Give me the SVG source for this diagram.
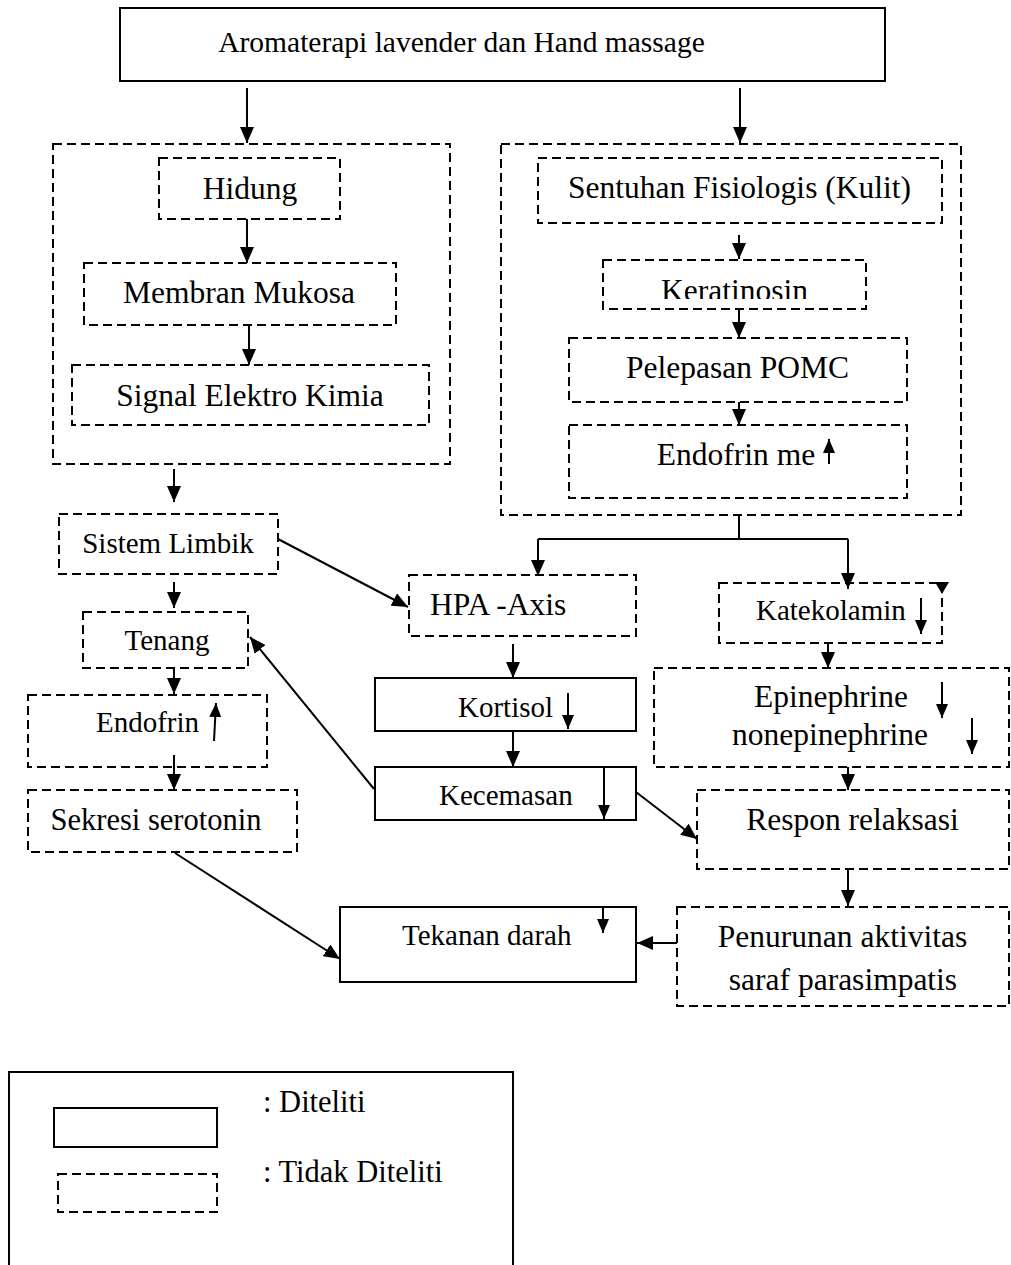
<svg xmlns="http://www.w3.org/2000/svg" width="1011" height="1265" viewBox="0 0 1011 1265">
<style>
.box{fill:none;stroke:#000;stroke-width:2}
.dbox{fill:none;stroke:#000;stroke-width:2;stroke-dasharray:9 5}
.ln{fill:none;stroke:#000;stroke-width:2}
.ar{fill:none;stroke:#000;stroke-width:2;marker-end:url(#ah)}
.sa{fill:none;stroke:#000;stroke-width:2;marker-end:url(#sh)}
text{font-family:"Liberation Serif","Times New Roman",serif;fill:#000}
.L{font-size:31.5px}
.S{font-size:29px}
.c{text-anchor:middle}
</style>
<defs>
<marker id="ah" viewBox="0 0 16 14" refX="16" refY="7" markerWidth="16" markerHeight="14" markerUnits="userSpaceOnUse" orient="auto"><path d="M0,0 L16,7 L0,14 Z" fill="#000"/></marker>
<marker id="sh" viewBox="0 0 14 12" refX="14" refY="6" markerWidth="14" markerHeight="12" markerUnits="userSpaceOnUse" orient="auto"><path d="M0,0 L14,6 L0,12 Z" fill="#000"/></marker>
<clipPath id="kclip"><rect x="600" y="255" width="270" height="44"/></clipPath>
</defs>
<rect width="1011" height="1265" fill="#fff"/>

<g id="title"><rect class="box" x="120" y="8" width="765" height="73"/><text class="S c" x="461.5" y="52" style="font-size:29.5px">Aromaterapi lavender dan Hand massage</text></g>

<g id="left-group"><rect class="dbox" x="53" y="144" width="397" height="320"/></g>
<g id="hidung"><rect class="dbox" x="159" y="158" width="181" height="61"/><text class="L c" x="250" y="199">Hidung</text></g>
<g id="membran"><rect class="dbox" x="84" y="263" width="312" height="62"/><text class="L c" x="239" y="303">Membran Mukosa</text></g>
<g id="signal"><rect class="dbox" x="72" y="365" width="357" height="60"/><text class="L c" x="250" y="406">Signal Elektro Kimia</text></g>

<g id="right-group"><rect class="dbox" x="501" y="144" width="460" height="371"/></g>
<g id="sentuhan"><rect class="dbox" x="538" y="158" width="404" height="65"/><text class="L c" x="739.5" y="198">Sentuhan Fisiologis (Kulit)</text></g>
<g id="keratinosin"><rect class="dbox" x="603" y="260" width="263" height="49"/><text class="L c" x="734.5" y="301" clip-path="url(#kclip)">Keratinosin</text></g>
<g id="pomc"><rect class="dbox" x="569" y="338" width="338" height="64"/><text class="L c" x="737.5" y="378">Pelepasan POMC</text></g>
<g id="endofrin-me"><rect class="dbox" x="569" y="425" width="338" height="73"/><text class="L c" x="736" y="465">Endofrin me</text><line class="sa" x1="829" y1="464" x2="829" y2="439"/></g>

<g id="sistem-limbik"><rect class="dbox" x="59" y="514" width="219" height="60"/><text class="S c" x="168" y="553">Sistem Limbik</text></g>
<g id="tenang"><rect class="dbox" x="83" y="612" width="165" height="56"/><text class="S c" x="167" y="650">Tenang</text></g>
<g id="endofrin"><rect class="dbox" x="28" y="695" width="239" height="72"/><text class="S" x="96" y="732">Endofrin</text><line class="sa" x1="214" y1="741" x2="216" y2="703"/></g>
<g id="sekresi"><rect class="dbox" x="28" y="790" width="269" height="62"/><text class="S c" x="156" y="830" style="font-size:30.5px">Sekresi serotonin</text></g>

<g id="hpa"><rect class="dbox" x="409" y="575" width="227" height="61"/><text class="L" x="430" y="615">HPA -Axis</text></g>
<g id="kortisol"><rect class="box" x="375" y="678" width="261" height="53"/><text class="S" x="458" y="717">Kortisol</text><line class="sa" x1="568" y1="693" x2="568" y2="729"/></g>
<g id="kecemasan"><rect class="box" x="375" y="767" width="261" height="53"/><text class="S" x="439" y="805">Kecemasan</text><line class="sa" x1="604" y1="767" x2="604" y2="819"/></g>

<g id="katekolamin"><rect class="dbox" x="719" y="583" width="223" height="60"/><text class="S" x="756" y="620">Katekolamin</text><line class="sa" x1="921" y1="598" x2="921" y2="634"/><path d="M935,582 L949,582 L942,594 Z" fill="#000"/></g>
<g id="epinephrine"><rect class="dbox" x="654" y="668" width="355" height="99"/><text class="L" x="754" y="707">Epinephrine</text><text class="L" x="732" y="745">nonepinephrine</text><line class="sa" x1="942" y1="682" x2="942" y2="718"/><line class="sa" x1="972" y1="718" x2="972" y2="754"/></g>
<g id="respon"><rect class="dbox" x="697" y="790" width="312" height="79"/><text class="L c" x="852.5" y="830">Respon relaksasi</text></g>
<g id="penurunan"><rect class="dbox" x="677" y="907" width="332" height="99"/><text class="L c" x="842.5" y="947">Penurunan aktivitas</text><text class="L c" x="843" y="990">saraf parasimpatis</text></g>
<g id="tekanan"><rect class="box" x="340" y="907" width="296" height="75"/><text class="S" x="402" y="945">Tekanan darah</text><line class="sa" x1="603" y1="907" x2="603" y2="933"/></g>

<g id="connectors">
<line class="ar" x1="247" y1="88" x2="247" y2="143"/>
<line class="ar" x1="740" y1="88" x2="740" y2="143"/>
<line class="ar" x1="247" y1="219" x2="247" y2="263"/>
<line class="ar" x1="249" y1="325" x2="249" y2="365"/>
<line class="ar" x1="174" y1="469" x2="174" y2="502"/>
<line class="ar" x1="174" y1="582" x2="174" y2="608"/>
<line class="ar" x1="174" y1="668" x2="174" y2="694"/>
<line class="ar" x1="174" y1="755" x2="174" y2="790"/>
<line class="ar" x1="739" y1="235" x2="739" y2="259"/>
<line class="ar" x1="739" y1="310" x2="739" y2="338"/>
<line class="ar" x1="739" y1="402" x2="739" y2="425"/>
<path class="ln" d="M739,515 V539 M538,539 H848"/>
<line class="ar" x1="538" y1="539" x2="538" y2="576"/>
<line class="ar" x1="848" y1="539" x2="848" y2="589"/>
<line class="ar" x1="513" y1="644" x2="513" y2="678"/>
<line class="ar" x1="513" y1="731" x2="513" y2="767"/>
<line class="ar" x1="828" y1="643" x2="828" y2="668"/>
<line class="ar" x1="848" y1="767" x2="848" y2="790"/>
<line class="ar" x1="848" y1="870" x2="848" y2="906"/>
<line class="ar" x1="677" y1="943" x2="637" y2="943"/>
<line class="ar" x1="278" y1="539" x2="408" y2="607"/>
<line class="ar" x1="374" y1="789" x2="250" y2="637"/>
<line class="ar" x1="636" y1="792" x2="697" y2="839"/>
<line class="ar" x1="175" y1="853" x2="340" y2="959"/>
</g>

<g id="legend">
<path class="ln" d="M9,1265 V1072 H513 V1265"/>
<rect class="box" x="54" y="1108" width="163" height="39"/>
<rect class="dbox" x="58" y="1174" width="159" height="38"/>
<text class="L" x="263" y="1112" style="font-size:30.5px">: Diteliti</text>
<text class="L" x="263" y="1182" style="font-size:30.5px">: Tidak Diteliti</text>
</g>
</svg>
